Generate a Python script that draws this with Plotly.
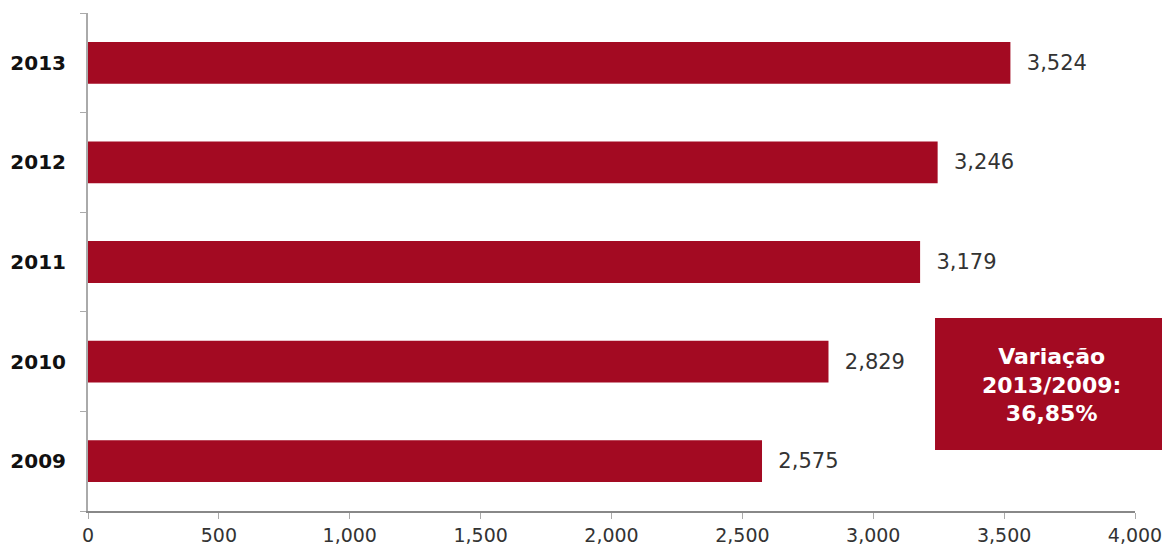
import plotly.graph_objects as go

years = ["2009", "2010", "2011", "2012", "2013"]
values = [2575, 2829, 3179, 3246, 3524]
x_tickvals = [0, 500, 1000, 1500, 2000, 2500, 3000, 3500, 4000]
x_ticktext = ["0", "500", "1,000", "1,500", "2,000", "2,500", "3,000", "3,500", "4,000"]
box_text = "Variação<br>2013/2009:<br>36,85%"

bar_color = "#A30A22"
FONT = "DejaVu Sans, Open Sans, sans-serif"

fig = go.Figure()
fig.add_trace(go.Bar(
    y=years, x=values, orientation="h",
    marker=dict(color=bar_color, line=dict(width=0)),
    width=0.42,
    text=[f"{v:,}" for v in values],
    texttemplate="  %{text}",
    textposition="outside",
    textfont=dict(family=FONT, size=21, color="#333333"),
    cliponaxis=False,
    hoverinfo="skip",
))

fig.add_shape(type="rect", xref="paper", yref="paper",
              x0=0.809, x1=1.0325, y0=0.1225, y1=0.3876,
              fillcolor=bar_color, line=dict(width=0), layer="above")
fig.add_annotation(xref="paper", yref="paper", x=0.9207, y=0.253,
                   xanchor="center", yanchor="middle",
                   text="<b>" + box_text + "</b>", showarrow=False,
                   font=dict(family=FONT, size=22, color="white"),
                   align="center")

fig.update_layout(
    width=1162, height=542,
    margin=dict(l=80, r=35, t=5, b=39),
    paper_bgcolor="white", plot_bgcolor="white",
    showlegend=False,
    xaxis=dict(range=[0, 4000], tickvals=x_tickvals, ticktext=x_ticktext,
               automargin=False,
               showgrid=False, zeroline=False, showline=True, linecolor="#888888", linewidth=2,
               ticks="outside", ticklen=6, tickcolor="#aaaaaa",
               tickfont=dict(family=FONT, size=19, color="#333333")),
    yaxis=dict(type="category", categoryorder="array", categoryarray=years,
               automargin=False,
               showgrid=False, zeroline=False, showline=True, linecolor="#aaaaaa", linewidth=2,
               ticks="outside", ticklen=6, tickcolor="#aaaaaa", tickson="boundaries",
               ticklabelstandoff=16,
               tickfont=dict(family=FONT, size=20, color="#111111", weight="bold")),
)

fig.write_html("out.html")
